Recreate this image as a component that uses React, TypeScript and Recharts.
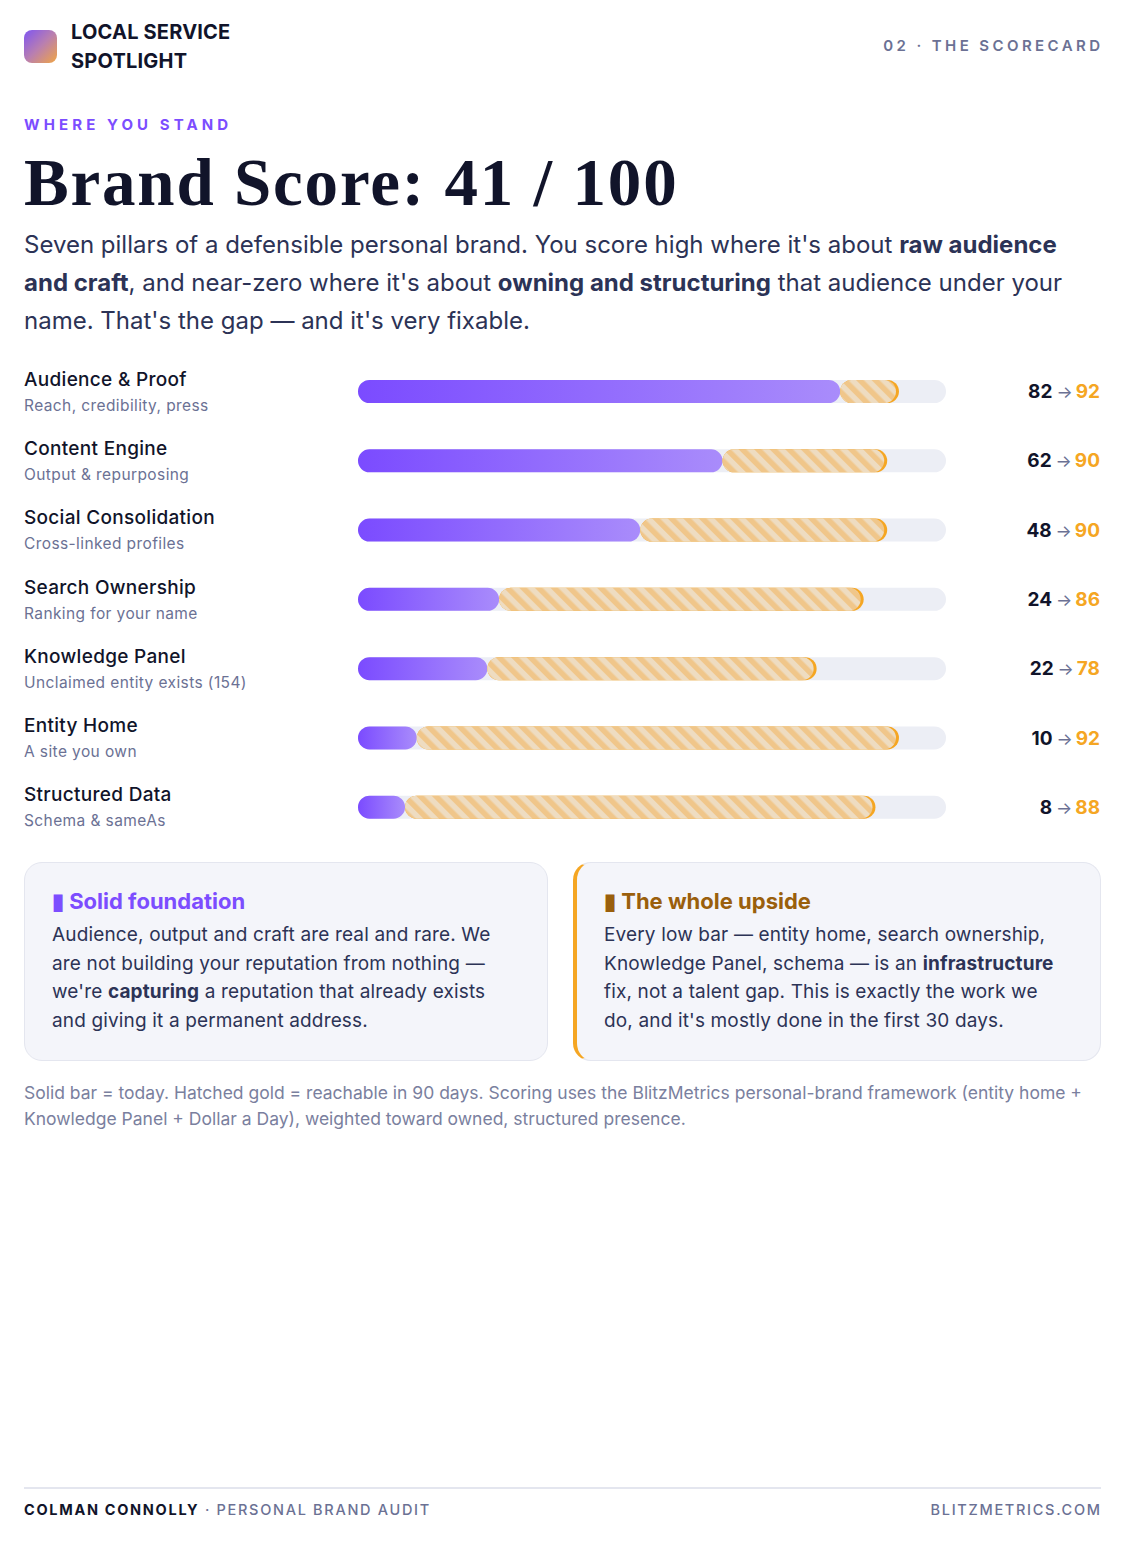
import React from 'react';
import { BarChart, Bar, XAxis, YAxis } from 'recharts';

// Pillar scores: today vs. reachable in 90 days
const pillars = [
    'Audience & Proof',
    'Content Engine',
    'Social Consolidation',
    'Search Ownership',
    'Knowledge Panel',
    'Entity Home',
    'Structured Data',
];
const subtitles = [
    'Reach, credibility, press',
    'Output & repurposing',
    'Cross-linked profiles',
    'Ranking for your name',
    'Unclaimed entity exists (154)',
    'A site you own',
    'Schema & sameAs',
];
const todayScores = [82, 62, 48, 24, 22, 10, 8];
const targetScores = [92, 90, 90, 86, 78, 92, 88];

const rows = pillars.map((name, i) => ({
    name,
    sub: subtitles[i],
    today: todayScores[i],
    target: targetScores[i],
    gain: targetScores[i] - todayScores[i],
}));

const INK = '#11142a';
const BODY = '#2c3356';
const MUTED = '#6b7194';
const PURPLE = '#7c4dff';
const GOLD = '#f5a623';
const FONT = "Inter, 'Noto Sans', sans-serif";

const CHART_W = 1076;
const CHART_H = 485;
const BAR_H = 23;

const PillarTick = (props: any) => {
    const { y, payload } = props;
    const row = rows.find((r) => r.name === payload.value);
    return (
        <g>
            <text x={0} y={y - 6} fill={INK} fontSize={19} fontWeight={500} letterSpacing={0.3} fontFamily={FONT}>
                {payload.value}
            </text>
            <text x={0} y={y + 19} fill={MUTED} fontSize={15.5} letterSpacing={0.4} fontFamily={FONT}>
                {row?.sub}
            </text>
        </g>
    );
};

const ScoreTick = (props: any) => {
    const { y, payload } = props;
    const row = rows.find((r) => r.name === payload.value);
    if (!row) return null;
    return (
        <text x={CHART_W} y={y + 6.5} textAnchor="end" fontFamily={FONT}>
            <tspan fill={INK} fontSize={19} fontWeight={700}>{row.today}</tspan>
            <tspan fill={MUTED} fontSize={17} dx={4}>→</tspan>
            <tspan fill={GOLD} fontSize={19} fontWeight={700} dx={3}>{row.target}</tspan>
        </text>
    );
};

// hatched gold segment with a rounded gold edge on the right
const GainBar = (props: any) => {
    const { x, y, width, height } = props;
    if (!width || width <= 0) return null;
    const r = height / 2;
    return (
        <g>
            <rect x={x} y={y} width={width} height={height} rx={r} ry={r} fill={GOLD} />
            <rect x={x} y={y} width={Math.max(width - 3, 0)} height={height} rx={r} ry={r} fill="url(#hatch)" />
        </g>
    );
};

const Scorecard: React.FC = () => (
    <BarChart
        width={CHART_W}
        height={CHART_H}
        data={rows}
        layout="vertical"
        margin={{ top: 0, right: 0, bottom: 0, left: 0 }}
        barSize={BAR_H}
    >
        <defs>
            <linearGradient id="purpleFill" x1="0" y1="0" x2="1" y2="0">
                <stop offset="0%" stopColor="#7b4bff" />
                <stop offset="100%" stopColor="#a98cfb" />
            </linearGradient>
            <pattern id="hatch" width="11" height="11" patternUnits="userSpaceOnUse" patternTransform="rotate(-45)">
                <rect width="11" height="11" fill="#eedcc1" />
                <rect width="5.5" height="11" fill="#f0c68a" />
            </pattern>
        </defs>
        <XAxis type="number" domain={[0, 100]} hide />
        <YAxis
            type="category"
            dataKey="name"
            width={334}
            axisLine={false}
            tickLine={false}
            tick={<PillarTick />}
        />
        <YAxis
            yAxisId="score"
            type="category"
            dataKey="name"
            orientation="right"
            width={154}
            axisLine={false}
            tickLine={false}
            tick={<ScoreTick />}
        />
        <Bar
            dataKey="today"
            stackId="s"
            fill="url(#purpleFill)"
            radius={BAR_H / 2}
            background={{ fill: '#eceef5', radius: BAR_H / 2 } as any}
            isAnimationActive={false}
        />
        <Bar dataKey="gain" stackId="s" shape={<GainBar />} isAnimationActive={false} />
    </BarChart>
);

const abs = (left: number, top: number, extra: React.CSSProperties = {}): React.CSSProperties => ({
    position: 'absolute',
    left,
    top,
    ...extra,
});

const cardBase: React.CSSProperties = {
    position: 'absolute',
    top: 862,
    height: 199,
    boxSizing: 'border-box',
    background: '#f4f5fa',
    border: '1.5px solid #e4e6ef',
    borderRadius: 18,
    padding: '24px 30px 0 27px',
};

const cardTitle: React.CSSProperties = {
    fontSize: 22,
    fontWeight: 700,
    lineHeight: '28px',
    marginBottom: 6,
};

const cardBody: React.CSSProperties = {
    fontSize: 19,
    letterSpacing: 0.15,
    lineHeight: '28.7px',
    color: BODY,
};

const App: React.FC = () => (
    <div style={{ position: 'absolute', left: 0, top: 0, width: 1126, height: 1541, background: '#fff', fontFamily: FONT, color: INK }}>
        {/* header */}
        <div
            style={abs(24, 30, {
                width: 33,
                height: 33,
                borderRadius: 8,
                background: 'linear-gradient(135deg, #7f55f2 0%, #b97fb0 50%, #f0a544 100%)',
            })}
        />
        <div style={abs(71, 18, { fontSize: 20, fontWeight: 700, lineHeight: '29px', letterSpacing: 0.2 })}>
            LOCAL SERVICE
            <br />
            SPOTLIGHT
        </div>
        <div style={abs(0, 36, { width: 1103.4, textAlign: 'right', fontSize: 15, fontWeight: 600, lineHeight: '20px', letterSpacing: 3.4, color: MUTED })}>
            02 · THE SCORECARD
        </div>

        <div style={abs(24, 115, { fontSize: 15, fontWeight: 700, lineHeight: '20px', letterSpacing: 4.1, color: PURPLE })}>
            WHERE YOU STAND
        </div>
        <div
            style={abs(24, 149, {
                fontFamily: "'Liberation Serif', serif",
                fontSize: 67,
                fontWeight: 900,
                lineHeight: '67px',
                letterSpacing: 1.8,
                color: INK,
                whiteSpace: 'nowrap',
            })}
        >
            Brand Score: 41 / 100
        </div>
        <div style={abs(24, 226, { width: 1060, fontSize: 24, lineHeight: '38px', color: BODY })}>
            Seven pillars of a defensible personal brand. You score high where it's about <b>raw audience and craft</b>, and
            near-zero where it's about <b>owning and structuring</b> that audience under your name. That's the gap — and
            it's very fixable.
        </div>

        {/* pillar bars */}
        <div style={abs(24, 356.5)}>
            <Scorecard />
        </div>

        {/* callouts */}
        <div style={{ ...cardBase, left: 24, width: 524 }}>
            <div style={{ ...cardTitle, color: PURPLE }}>▮ Solid foundation</div>
            <div style={cardBody}>
                Audience, output and craft are real and rare. We are not building your reputation from nothing — we're{' '}
                <b>capturing</b> a reputation that already exists and giving it a permanent address.
            </div>
        </div>
        <div style={{ ...cardBase, left: 573, width: 528, borderLeft: `4.5px solid ${GOLD}`, paddingLeft: 27 }}>
            <div style={{ ...cardTitle, color: '#9a5f0c' }}>▮ The whole upside</div>
            <div style={cardBody}>
                Every low bar — entity home, search ownership, Knowledge Panel, schema — is an <b>infrastructure</b> fix, not
                a talent gap. This is exactly the work we do, and it's mostly done in the first 30 days.
            </div>
        </div>

        <div style={abs(24, 1080, { width: 1078, fontSize: 17.5, lineHeight: '26px', color: '#7a809e' })}>
            Solid bar = today. Hatched gold = reachable in 90 days. Scoring uses the BlitzMetrics personal-brand framework
            (entity home + Knowledge Panel + Dollar a Day), weighted toward owned, structured presence.
        </div>

        {/* footer */}
        <div style={abs(24, 1487, { width: 1077, height: 1.5, background: '#e4e6ef' })} />
        <div style={abs(24, 1500, { fontSize: 14.5, lineHeight: '20px', letterSpacing: 1.7, color: MUTED, fontWeight: 500 })}>
            <span style={{ color: INK, fontWeight: 700 }}>COLMAN CONNOLLY</span> · PERSONAL BRAND AUDIT
        </div>
        <div style={abs(0, 1500, { width: 1101.7, textAlign: 'right', fontSize: 14.5, lineHeight: '20px', letterSpacing: 1.7, color: MUTED, fontWeight: 500 })}>
            BLITZMETRICS.COM
        </div>
    </div>
);

export default App;
